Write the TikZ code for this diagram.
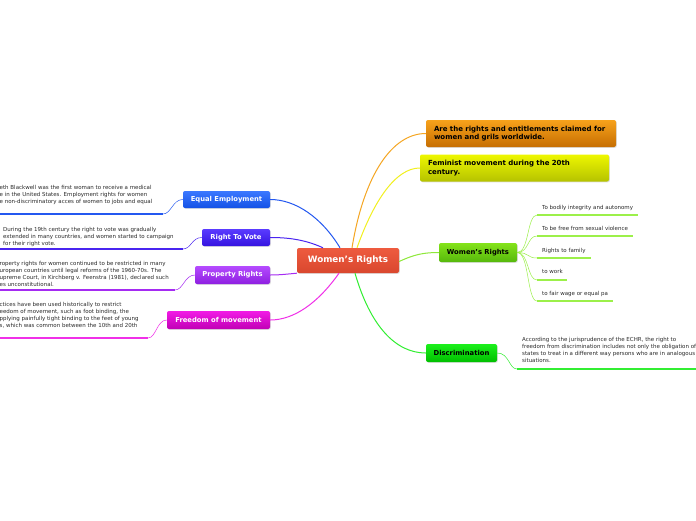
\documentclass[tikz,border=0pt]{standalone}
\usepackage{fontspec}
\setmainfont{DejaVu Sans}
\usetikzlibrary{shadows}
\definecolor{wrtop}{HTML}{EE5B3F}\definecolor{wrbot}{HTML}{D9472E}
\definecolor{ortop}{HTML}{F7A21B}\definecolor{orbot}{HTML}{C66E02}\definecolor{orline}{HTML}{F5A623}
\definecolor{yetop}{HTML}{EEF700}\definecolor{yebot}{HTML}{B5C200}\definecolor{yeline}{HTML}{F2F020}
\definecolor{grtop}{HTML}{84E31A}\definecolor{grbot}{HTML}{56B80C}\definecolor{grline}{HTML}{8EE83A}
\definecolor{grtwig}{HTML}{9CF04A}
\definecolor{ditop}{HTML}{1CF01C}\definecolor{dibot}{HTML}{00BF00}\definecolor{diline}{HTML}{33EE33}
\definecolor{bltop}{HTML}{3B78FF}\definecolor{blbot}{HTML}{1452E6}\definecolor{blline}{HTML}{2458F0}
\definecolor{intop}{HTML}{5A3BFF}\definecolor{inbot}{HTML}{3514E0}\definecolor{inline}{HTML}{4A25F0}
\definecolor{putop}{HTML}{B54BFF}\definecolor{pubot}{HTML}{8E1FE0}\definecolor{puline}{HTML}{A52BF2}
\definecolor{matop}{HTML}{F21BE6}\definecolor{mabot}{HTML}{C000B5}\definecolor{maline}{HTML}{F030E8}
\definecolor{txtgrey}{HTML}{2A2A2A}
\begin{document}
\begin{tikzpicture}[x=1pt, y=-1pt,
  topic/.style={shape=rectangle, rounded corners=2pt, inner sep=0pt,
    font=\bfseries\fontsize{6.8}{8}\selectfont,
    drop shadow={shadow xshift=0.8pt, shadow yshift=-0.8pt, opacity=0.25}},
  para/.style={inner sep=0pt, align=left, anchor=north west, text=txtgrey,
    font=\fontsize{5.5}{7}\selectfont},
  branch/.style={line width=1pt},
  twig/.style={line width=0.5pt},
  uline/.style={line width=1.5pt}]
  \useasboundingbox (0,0) rectangle (696,520);
  \fill[white] (0,0) rectangle (696,520);
  \clip (0,0) rectangle (696,520);
  % Topics and boxes:
  \node[topic, minimum width=102pt, minimum height=25pt, top color=wrtop, bottom color=wrbot, text=white,
    font=\bfseries\fontsize{8.8}{10}\selectfont] (WR0) at (348,260.5) {Women's Rights};
  \node[topic, minimum width=190pt, minimum height=27pt, text width=174pt, align=left,
    font=\bfseries\fontsize{7}{8}\selectfont, top color=ortop, bottom color=orbot] (Def) at (521,133.5)
    {Are the rights and entitlements claimed for\\women and grils worldwide.};
  \node[topic, minimum width=189pt, minimum height=27pt, text width=173pt, align=left,
    font=\bfseries\fontsize{7}{8.5}\selectfont, top color=yetop, bottom color=yebot] (Fem) at (514.5,168)
    {Feminist movement during the 20th\\century.};
  \node[topic, minimum width=78pt, minimum height=19pt, top color=grtop, bottom color=grbot] (WR1) at (478,252.5) {Women's Rights};
  \node[topic, minimum width=71pt, minimum height=18pt, top color=ditop, bottom color=dibot] (Dis) at (461.5,353) {Discrimination};
  \node[topic, minimum width=87pt, minimum height=17pt, top color=bltop, bottom color=blbot, text=white] (Emp) at (226.5,199.5) {Equal Employment};
  \node[topic, minimum width=68pt, minimum height=17pt, top color=intop, bottom color=inbot, text=white] (Vote) at (236,237.5) {Right To Vote};
  \node[topic, minimum width=75pt, minimum height=18pt, top color=putop, bottom color=pubot, text=white] (Prop) at (232.5,275) {Property Rights};
  \node[topic, minimum width=103pt, minimum height=18pt, top color=matop, bottom color=mabot, text=white] (Move) at (218.5,320) {Freedom of movement};
  % Main branches:
  \draw[branch, orline] ([xshift=4pt]WR0.north) .. controls (364,175) and (392,133.5) .. (Def.west);
  \draw[branch, yeline] ([xshift=9pt]WR0.north) .. controls (374,200) and (396,168) .. (Fem.west);
  \draw[branch, grline] ([yshift=-1pt]WR0.east) .. controls (415,254) and (425,252.5) .. (WR1.west);
  \draw[branch, diline] ([xshift=7pt]WR0.south) .. controls (370,325) and (395,353) .. (Dis.west);
  \draw[branch, blline] ([xshift=-8pt]WR0.north) .. controls (322,218) and (296,199.5) .. (Emp.east);
  \draw[branch, inline] ([xshift=-25pt]WR0.north) .. controls (304,239) and (286,237.5) .. (Vote.east);
  \draw[branch, puline] (WR0.south west) .. controls (288,274) and (280,275) .. (Prop.east);
  \draw[branch, maline] ([xshift=-9pt]WR0.south) .. controls (318,303) and (294,320) .. (Move.east);
  % Women's Rights items:
  \coordinate (g1) at (537,215);
  \coordinate (g2) at (537,236);
  \coordinate (g3) at (537,258);
  \coordinate (g4) at (537,280);
  \coordinate (g5) at (537,301);
  \node[para] (I1) at (542,205.5) {To bodily integrity and autonomy};
  \node[para] (I2) at (542,226.5) {To be free from sexual violence};
  \node[para] (I3) at (542,248.5) {Rights to family};
  \node[para] (I4) at (542,269.5) {to work};
  \node[para] (I5) at (542,291.5) {to fair wage or equal pa};
  \foreach \g/\e in {g1/638, g2/633, g3/591, g4/567, g5/613}{
    \draw[twig, grtwig] (WR1.east) .. controls +(12,0) and +(-10,0) .. (\g);
    \draw[uline, grtwig] (\g) -- (\e,0 |- \g);
  }
  % Discrimination text:
  \coordinate (d1) at (517,369);
  \node[para] (DisT) at (522,337.5) {According to the jurisprudence of the ECHR, the right to\\
    freedom from discrimination includes not only the obligation of\\
    states to treat in a different way persons who are in analogous\\
    situations.};
  \draw[twig, diline] (Dis.east) .. controls +(12,0) and +(-8,0) .. (d1);
  \draw[uline, diline] (d1) -- (700,369);
  % Left texts:
  \coordinate (e1) at (163,214);
  \coordinate (v1) at (183,249);
  \coordinate (p1) at (175,290);
  \coordinate (m1) at (148,338);
  \node[para] (EmpT) at (-0.5,185.5) {eth Blackwell was the first woman to receive a medical\\
    e in the United States. Employment rights for women\\
    e non-discriminatory acces of women to jobs and equal};
  \node[para] (VoteT) at (3,227.5) {During the 19th century the right to vote was gradually\\
    extended in many countries, and women started to campaign\\
    for their right vote.};
  \node[para] (PropT) at (-0.5,261.5) {roperty rights for women continued to be restricted in many\\
    uropean countries until legal reforms of the 1960-70s. The\\
    upreme Court, in Kirchberg v. Feenstra (1981), declared such\\
    es unconstitutional.};
  \node[para] (MoveT) at (-0.5,302) {ctices have been used historically to restrict\\
    eedom of movement, such as foot binding, the\\
    pplying painfully tight binding to the feet of young\\
    s, which was common between the 10th and 20th};
  \draw[twig, blline] (Emp.west) .. controls +(-10,0) and +(8,0) .. (e1);
  \draw[uline, blline] (e1) -- (-5,214);
  \draw[twig, inline] (Vote.west) .. controls +(-10,0) and +(8,0) .. (v1);
  \draw[uline, inline] (v1) -- (-5,249);
  \draw[twig, puline] (Prop.west) .. controls +(-10,0) and +(8,0) .. (p1);
  \draw[uline, puline] (p1) -- (-5,290);
  \draw[twig, maline] (Move.west) .. controls +(-10,0) and +(8,0) .. (m1);
  \draw[uline, maline] (m1) -- (-5,338);
\end{tikzpicture}
\end{document}
